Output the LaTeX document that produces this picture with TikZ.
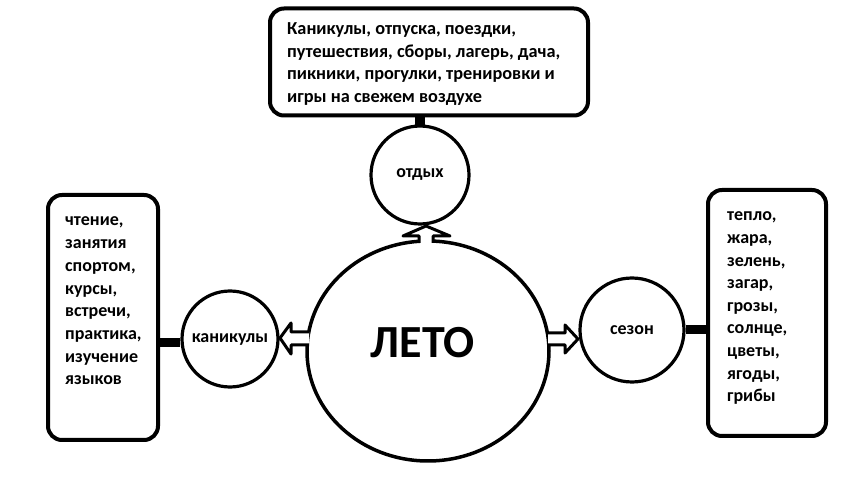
\documentclass[tikz,border=0pt]{standalone}
\usepackage{fontspec}
\setmainfont{Carlito}
\usetikzlibrary{shapes.geometric}
\begin{document}
\begin{tikzpicture}[x=1pt,y=-1pt,
  box/.style={draw,line width=4pt,rounded corners=14pt,inner sep=0pt},
  circ/.style={draw,circle,line width=3.2pt,inner sep=0pt,font=\bfseries\fontsize{18}{21}\selectfont},
  bar/.style={line width=9pt},
  hollow/.style={draw,line width=3pt,fill=white,line join=round},
  txt/.style={anchor=base west,inner sep=0pt}]
\useasboundingbox (0,0) rectangle (863,486);
% main ellipse
\node[draw,ellipse,line width=3.5pt,minimum width=242pt,minimum height=220pt,inner sep=0pt] (leto) at (428,351) {};
\node[inner sep=0pt,font=\bfseries\fontsize{46}{52}\selectfont] (letotxt) at (423,343) {ЛЕТО};
% satellite circles
\node[circ,minimum size=98pt] (otdyh) at (420,175) {отдых};
\node[circ,minimum size=96pt] (kan) at (230,339) {каникулы};
\node[circ,minimum size=104pt] (sezon) at (632,330) {сезон};
% boxes
\node[box,minimum width=318pt,minimum height=107pt] (topbox) at (429,62) {};
\node[box,minimum width=110pt,minimum height=245pt] (leftbox) at (103,317.5) {};
\node[box,minimum width=118pt,minimum height=246pt] (rightbox) at (767,313) {};
% texts
\node[txt] (toptxt) at (287,35) {\parbox[t]{300pt}{\raggedright\bfseries\fontsize{18.3}{22.4}\selectfont
Каникулы, отпуска, поездки,\\ путешествия, сборы, лагерь, дача,\\ пикники, прогулки, тренировки и\\ игры на свежем воздухе}};
\node[txt] (lefttxt) at (65,226) {\parbox[t]{100pt}{\raggedright\bfseries\fontsize{18}{22.7}\selectfont
чтение,\\ занятия\\ спортом,\\ курсы,\\ встречи,\\ практика,\\ изучение\\ языков}};
\node[txt] (righttxt) at (727,221) {\parbox[t]{100pt}{\raggedright\bfseries\fontsize{18}{22.6}\selectfont
тепло,\\ жара,\\ зелень,\\ загар,\\ грозы,\\ солнце,\\ цветы,\\ ягоды,\\ грибы}};
% connector bars
\fill ([xshift=-5pt,yshift=-1pt]otdyh.north) rectangle ([xshift=5pt]otdyh.north |- topbox.south);
\draw[bar] ([yshift=-4pt]kan.west) -- ([yshift=-4pt]kan.west -| leftbox.east);
\draw[bar] (sezon.east) -- (sezon.east -| rightbox.west);
% hollow arrows
\draw[hollow] (419,243) -- (419,236) -- (403,236) -- (426,226) -- (450,236) -- (433,236) -- (433,243);
\draw[hollow] (309,332) -- (291,332) -- (291,323) -- (280,338) -- (291,354) -- (291,345) -- (309,345);
\draw[hollow] (548,333) -- (565,333) -- (565,325) -- (578,339) -- (565,353) -- (565,345) -- (548,345);
\end{tikzpicture}
\end{document}
